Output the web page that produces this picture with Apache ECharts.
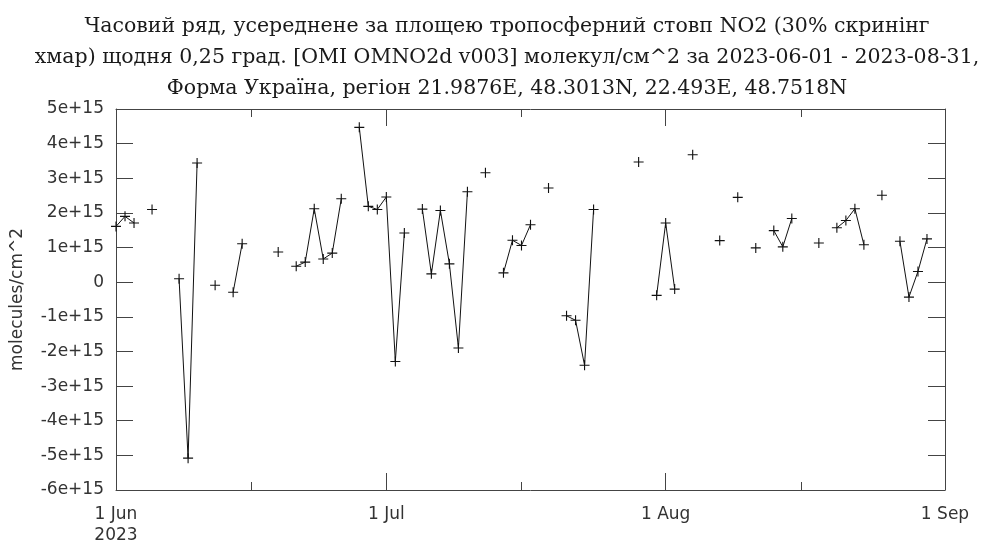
<!DOCTYPE html>
<html>
<head>
<meta charset="utf-8">
<script src="https://cdn.jsdelivr.net/npm/echarts@6/dist/echarts.min.js"></script>
<style>
  html, body { margin: 0; padding: 0; background: #fff; }
  #chart { width: 984px; height: 542px; }
</style>
</head>
<body>
<div id="chart"></div>
<script>
// Daily area-averaged tropospheric NO2 column (molecules/cm^2), summer 2023
const obsDates = [
  '2023-06-01', '2023-06-02', '2023-06-03', '2023-06-05', '2023-06-08', '2023-06-09',
  '2023-06-10', '2023-06-12', '2023-06-14', '2023-06-15', '2023-06-19', '2023-06-21',
  '2023-06-22', '2023-06-23', '2023-06-24', '2023-06-25', '2023-06-26', '2023-06-28',
  '2023-06-29', '2023-06-30', '2023-07-01', '2023-07-02', '2023-07-03', '2023-07-05',
  '2023-07-06', '2023-07-07', '2023-07-08', '2023-07-09', '2023-07-10', '2023-07-12',
  '2023-07-14', '2023-07-15', '2023-07-16', '2023-07-17', '2023-07-19', '2023-07-21',
  '2023-07-22', '2023-07-23', '2023-07-24', '2023-07-29', '2023-07-31', '2023-08-01',
  '2023-08-02', '2023-08-04', '2023-08-07', '2023-08-09', '2023-08-11', '2023-08-13',
  '2023-08-14', '2023-08-15', '2023-08-18', '2023-08-20', '2023-08-21', '2023-08-22',
  '2023-08-23', '2023-08-25', '2023-08-27', '2023-08-28', '2023-08-29', '2023-08-30'
];
const no2Values = [
  1.61e15, 1.90e15, 1.71e15, 2.10e15, 0.10e15, -5.08e15,
  3.44e15, -0.09e15, -0.29e15, 1.11e15, 0.87e15, 0.46e15,
  0.58e15, 2.12e15, 0.67e15, 0.84e15, 2.41e15, 4.47e15,
  2.19e15, 2.10e15, 2.46e15, -2.29e15, 1.42e15, 2.11e15,
  0.24e15, 2.07e15, 0.53e15, -1.90e15, 2.61e15, 3.16e15,
  0.27e15, 1.21e15, 1.06e15, 1.66e15, 2.72e15, -0.97e15,
  -1.10e15, -2.40e15, 2.10e15, 3.47e15, -0.38e15, 1.71e15,
  -0.20e15, 3.68e15, 1.20e15, 2.45e15, 0.99e15, 1.49e15,
  1.02e15, 1.84e15, 1.13e15, 1.57e15, 1.78e15, 2.12e15,
  1.08e15, 2.51e15, 1.18e15, -0.43e15, 0.31e15, 1.25e15
];

// Axis tick positions and labels
const majorTickDates = ['2023-06-01', '2023-07-01', '2023-08-01', '2023-09-01'];
const majorTickLabels = ['1 Jun\n2023', '1 Jul', '1 Aug', '1 Sep'];
const minorTickDates = ['2023-06-16', '2023-07-16', '2023-08-16'];
const periodStart = '2023-06-01';
const periodEnd = '2023-09-01';
const yMin = -6e15, yMax = 5e15, yStep = 1e15;

const titleText =
  'Часовий ряд, усереднене за площею тропосферний стовп NO2 (30% скринінг\n' +
  'хмар) щодня 0,25 град. [OMI OMNO2d v003] молекул/см^2 за 2023-06-01 - 2023-08-31,\n' +
  'Форма Україна, регіон 21.9876E, 48.3013N, 22.493E, 48.7518N';

// The x axis counts days since the start of the period
const DAY = 86400000;
function dayIndex(s) {
  const p = s.split('-').map(Number);
  const q = periodStart.split('-').map(Number);
  return Math.round((Date.UTC(p[0], p[1] - 1, p[2]) - Date.UTC(q[0], q[1] - 1, q[2])) / DAY);
}

// Daily series: days without a retrieval become gaps in the line
const byDay = {};
obsDates.forEach((d, i) => { byDay[dayIndex(d)] = no2Values[i]; });
const lastDay = dayIndex(periodEnd);
const seriesData = [];
for (let d = 0; d < lastDay; d++) {
  seriesData.push([d, d in byDay ? byDay[d] : null]);
}

const majorTicks = majorTickDates.map(dayIndex);
const minorTicks = minorTickDates.map(dayIndex);
const frameColor = '#444';
const textColor = '#333';
const sansFont = '"DejaVu Sans", sans-serif';

function xAxisBase(position, ticks, len, labels, showLine) {
  return {
    type: 'value',
    position: position,
    min: 0,
    max: lastDay,
    axisLine: { show: showLine, onZero: false, lineStyle: { color: frameColor, width: 1 } },
    axisTick: { show: true, inside: true, length: len, customValues: ticks,
                lineStyle: { color: frameColor, width: 1 } },
    axisLabel: labels ? {
      show: true, customValues: ticks, margin: 14,
      color: textColor, fontFamily: sansFont, fontSize: 17, lineHeight: 21,
      formatter: function (v) {
        const i = majorTicks.indexOf(Math.round(v));
        return i >= 0 ? majorTickLabels[i] : '';
      }
    } : { show: false },
    splitLine: { show: false }
  };
}

function yLabel(v) {
  const n = Math.round(v / 1e15);
  return n === 0 ? '0' : n + 'e+15';
}

const chart = echarts.init(document.getElementById('chart'), null, { renderer: 'canvas' });
chart.setOption({
  animation: false,
  backgroundColor: '#fff',
  title: {
    text: titleText,
    left: 502,
    textAlign: 'center',
    top: 6,
    textStyle: {
      fontFamily: '"DejaVu Serif", "Liberation Serif", serif',
      fontWeight: 'normal',
      fontSize: 20.5,
      lineHeight: 31,
      color: '#1a1a1a'
    }
  },
  grid: { left: 116, right: 39, top: 109, bottom: 52, containLabel: false, outerBoundsMode: 'none' },
  xAxis: [
    xAxisBase('bottom', majorTicks, 17, true, true),
    xAxisBase('top', majorTicks, 17, false, true),
    xAxisBase('bottom', minorTicks, 8, false, false),
    xAxisBase('top', minorTicks, 8, false, false)
  ],
  yAxis: [
    {
      type: 'value', position: 'left', min: yMin, max: yMax, interval: yStep,
      name: 'molecules/cm^2', nameLocation: 'middle', nameGap: 90,
      nameTextStyle: { color: textColor, fontFamily: sansFont, fontSize: 17 },
      axisLine: { show: true, onZero: false, lineStyle: { color: frameColor, width: 1 } },
      axisTick: { show: true, inside: true, length: 17, lineStyle: { color: frameColor, width: 1 } },
      axisLabel: { color: textColor, fontFamily: sansFont, fontSize: 17, margin: 12, formatter: yLabel },
      splitLine: { show: false }
    },
    {
      type: 'value', position: 'right', min: yMin, max: yMax, interval: yStep,
      axisLine: { show: true, onZero: false, lineStyle: { color: frameColor, width: 1 } },
      axisTick: { show: true, inside: true, length: 17, lineStyle: { color: frameColor, width: 1 } },
      axisLabel: { show: false },
      splitLine: { show: false }
    }
  ],
  series: [
    {
      type: 'line',
      xAxisIndex: 0,
      yAxisIndex: 0,
      data: seriesData,
      connectNulls: false,
      showSymbol: true,
      showAllSymbol: true,
      symbol: 'path://M4,0L5,0L5,4L9,4L9,5L5,5L5,9L4,9L4,5L0,5L0,4L4,4Z',
      symbolSize: 10,
      itemStyle: { color: '#111', borderWidth: 0 },
      lineStyle: { color: '#111', width: 1 },
      silent: true
    }
  ]
});
</script>
</body>
</html>
